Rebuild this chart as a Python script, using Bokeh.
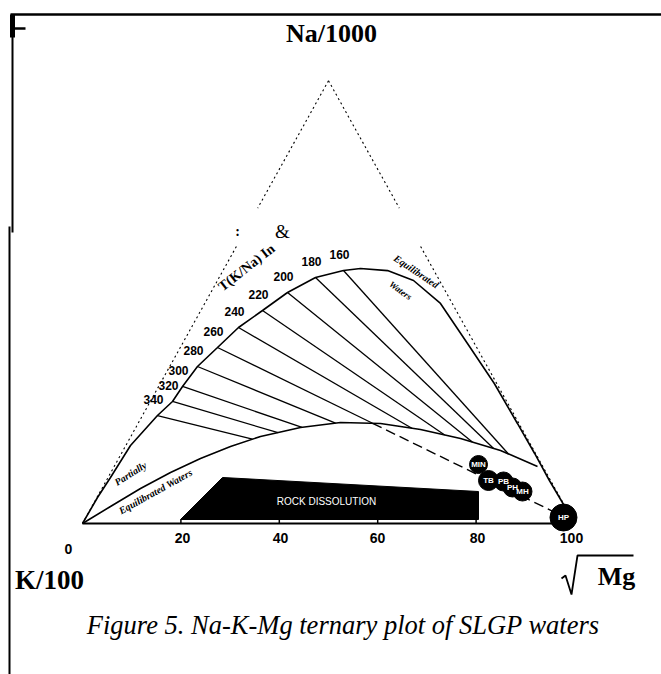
import numpy as np
from bokeh.plotting import figure
from bokeh.models import Range1d
from bokeh.embed import file_html
from bokeh.resources import INLINE
from bokeh.core.properties import value

# ---------------- data (triangle units: base K=0 ... Mg=100, apex height 90) -------------
corner_labels = ["Na/1000", "K/100", "Mg"]
apex_height = 90.0

base_ticks = [0, 20, 40, 60, 80, 100]
base_tick_labels = ["0", "20", "40", "60", "80", "100"]

# full equilibrium curve ("Equilibrated Waters")
full_eq_x = [0.0, 3.05, 5.69, 9.76, 15.24, 18.29, 20.33, 23.37, 27.44, 31.71, 36.59, 41.67,
             47.36, 53.05, 56.50, 62.0, 67.28, 72.76, 78.25, 83.7, 88.4, 91.9, 94.9,
             97.3, 100.0]
full_eq_y = [0.0, 5.28, 9.35, 15.85, 21.95, 24.80, 27.85, 31.91, 35.77, 39.84, 43.29, 46.95,
             50.0, 51.42, 51.83, 51.4, 49.39, 44.72, 36.59, 28.46, 20.33, 14.23, 8.74,
             4.67, 0.0]

# partial equilibrium curve
partial_eq_x = [0.0, 5.69, 11.79, 17.89, 23.98, 30.08, 36.18, 44.31, 52.44, 60.57, 68.70,
                76.83, 84.96, 92.48]
partial_eq_y = [0.0, 3.46, 7.11, 10.37, 13.21, 15.65, 17.68, 19.51, 20.53, 20.33, 19.11,
                17.28, 14.84, 11.59]

# K/Na isotherms (start on full equilibrium curve, run towards the Mg corner)
isotherm_T = ["340", "320", "300", "280", "260", "240", "220", "200", "180", "160"]
isotherm_x = [15.24, 18.29, 20.33, 23.37, 27.44, 31.71, 36.59, 41.67, 47.36, 53.05]
isotherm_y = [21.95, 24.80, 27.85, 31.91, 35.77, 39.84, 43.29, 46.95, 50.0, 51.42]
isotherm_focus = (98.2, 1.2)

# rock dissolution field
rock_x = [19.92, 28.46, 80.49, 80.49]
rock_y = [0.81, 9.35, 6.50, 0.81]

# SLGP water samples
sample_names = ["MIN", "TB", "PB", "PH", "MH", "HP"]
sample_x = [80.49, 82.52, 85.57, 87.40, 89.43, 97.76]
sample_y = [11.99, 8.74, 8.54, 7.32, 6.50, 1.22]
sample_size = [18, 20, 19, 19, 19, 27]

# ---------------- layout helpers -------------
SC = 4.92          # pixels per unit
X0, Y0 = 82, 523   # page pixel of K corner


def px(X, Y):
    return (X - X0) / SC, (Y0 - Y) / SC


W, H = 661, 674
xs, ys = px(0, 0)
xe, ye = px(W, H)

p = figure(width=W, height=H, x_range=Range1d(xs, xe), y_range=Range1d(ye, ys),
           output_backend="svg", toolbar_location=None, min_border=0,
           x_axis_location=None, y_axis_location=None)
p.grid.visible = False
p.outline_line_color = None
p.background_fill_color = "white"
p.border_fill_color = "white"

SERIF = value("Liberation Serif")
SANS = value("Liberation Sans")

# page frame (scan border)
for (a, b, w) in [((10, 14), (661, 14), 2.5), ((12, 14), (12, 232), 2), ((9, 226), (9, 674), 2),
                  ((12, 14), (12, 37), 5), ((14, 28), (25, 28), 2.5)]:
    (x1, y1), (x2, y2) = px(*a), px(*b)
    p.line([x1, x2], [y1, y2], line_color="black", line_width=w)

# triangle sides (dotted, with scan gap)
gap_lo, gap_hi = 56.3, 64.1
for side in (0, 1):
    def sx(h):
        return h / apex_height * 50 if side == 0 else 100 - h / apex_height * 50
    p.line([sx(apex_height), sx(gap_hi)], [apex_height, gap_hi], line_color="black",
           line_width=1.1, line_dash="2 3")
    p.line([sx(gap_lo), sx(0)], [gap_lo, 0], line_color="black", line_width=1.1, line_dash="2 3")
p.line([0, 100], [0, 0], line_color="black", line_width=2)
p.segment(x0=base_ticks[1:-1], y0=[0] * 4, x1=base_ticks[1:-1], y1=[0.8] * 4,
          line_color="black", line_width=1.5)

# curves
p.line(full_eq_x, full_eq_y, line_color="black", line_width=1.6)
p.line(partial_eq_x, partial_eq_y, line_color="black", line_width=1.6)

# isotherms: from full-eq curve towards focus, ending on partial-eq curve
fx, fy = isotherm_focus
t = np.linspace(0, 1, 2001)
ends_x, ends_y = [], []
for x0_, y0_ in zip(isotherm_x, isotherm_y):
    rx = x0_ + (fx - x0_) * t
    ry = y0_ + (fy - y0_) * t
    low = np.interp(rx, partial_eq_x, partial_eq_y)
    idx = np.argmax(ry <= low)
    ends_x.append(rx[idx])
    ends_y.append(ry[idx])
p.segment(x0=isotherm_x, y0=isotherm_y, x1=ends_x, y1=ends_y, line_color="black", line_width=1.3)
i260 = isotherm_T.index("260")
p.line([ends_x[i260], fx], [ends_y[i260], fy], line_color="black", line_width=1.4,
       line_dash="10 5")

p.text(x=isotherm_x, y=isotherm_y, text=isotherm_T, x_offset=-4, y_offset=-16,
       text_font=SANS, text_font_style="bold", text_font_size="12px",
       text_align="center", text_baseline="middle", text_color="black")

# rock dissolution
p.patch(rock_x, rock_y, fill_color="black", line_color="black")
rx_, ry_ = px(326, 501)
p.text(x=[rx_], y=[ry_], text=["ROCK DISSOLUTION"], text_font=SANS, text_font_size="10px",
       text_align="center", text_baseline="middle", text_color="white")

# samples
p.scatter(sample_x, sample_y, size=sample_size, fill_color="black", line_color="black")
p.text(x=sample_x, y=sample_y, text=sample_names, text_font=SANS, text_font_style="bold",
       text_font_size="8px", text_align="center", text_baseline="middle", text_color="white")

# labels
def label(txt, X, Y, size, font=SERIF, style="bold", angle=0.0, color="black"):
    x_, y_ = px(X, Y)
    p.text(x=[x_], y=[y_], text=[txt], text_font=font, text_font_style=style,
           text_font_size=size, text_align="center", text_baseline="middle",
           angle=np.deg2rad(angle), text_color=color)

label(corner_labels[0], 331, 33, "26px")
label(corner_labels[1], 49, 579, "27px")
label(corner_labels[2], 616, 576, "26px")
rad = [px(561, 578), px(565, 575), px(571, 594), px(577, 555), px(633, 555)]
p.line([a for a, b in rad], [b for a, b in rad], line_color="black", line_width=1.8)

tick_px = [(68, 548), (182, 537), (280, 537), (377, 537), (477, 537), (571, 537)]
for lab, (X, Y) in zip(base_tick_labels, tick_px):
    label(lab, X, Y, "14px", font=SANS)

label("T(K/Na) In", 246, 267, "14px", angle=38)
label("&", 282, 231, "19px", style="normal")
label(":", 237, 231, "14px", style="bold")
label("Equilibrated", 416, 271, "10px", style="bold italic", angle=-34)
label("Waters", 400, 290, "9px", style="bold italic", angle=-36)
label("Partially", 130, 473, "10px", style="bold italic", angle=32)
label("Equilibrated Waters", 155, 491, "10px", style="bold italic", angle=29)

label("Figure 5.  Na-K-Mg ternary plot of SLGP waters", 346, 624, "26.5px", style="italic")

open("out.html", "w").write(file_html(p, INLINE))
